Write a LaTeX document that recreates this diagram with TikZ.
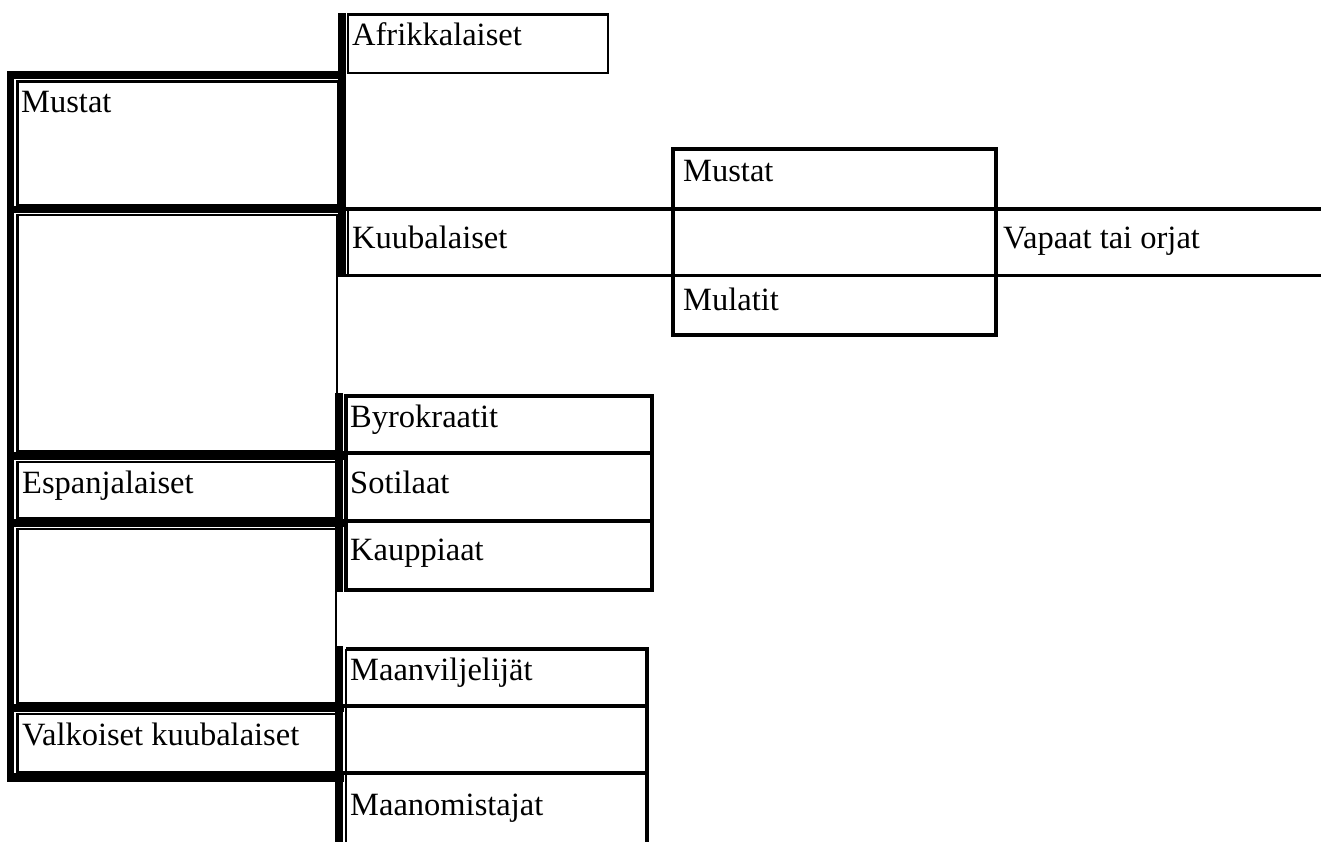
\documentclass[tikz,border=0pt]{standalone}
\usepackage{fontspec}
\setmainfont{Liberation Serif}
\begin{document}
\begin{tikzpicture}[x=1pt,y=-1pt,
  heavy/.style={fill=black,draw=none},
  cell/.style={draw=black,line width=2.6pt},
  rule/.style={draw=black,line width=3.8pt},
  lbl/.style={anchor=base west,inner sep=0pt,font=\fontsize{32.5}{39}\selectfont}]
\useasboundingbox (0,0) rectangle (1321,842);
\fill[white] (0,0) rectangle (1321,842);
% heavy frame of the left column
\path[heavy] (7,71) rectangle (14,782);
\path[heavy] (7,71) rectangle (346,79);
\path[heavy] (7,206) rectangle (346,213);
\path[heavy] (7,452) rectangle (344,460);
\path[heavy] (7,519) rectangle (344,527);
\path[heavy] (7,704) rectangle (344,712);
\path[heavy] (7,773) rectangle (344,782);
% heavy bars of the right groups
\path[heavy] (338,13) rectangle (346,277);
\path[heavy] (335,393) rectangle (343,592);
\path[heavy] (335,646) rectangle (343,842);
% left column cells
\draw[cell] (17.5,81.5) rectangle (338,205);
\draw[cell] (17.5,215) rectangle (337,451);
\draw[cell] (17.5,462) rectangle (336,518);
\draw[cell] (17.5,529) rectangle (336,703);
\draw[cell] (17.5,714) rectangle (336,772);
% Afrikkalaiset
\draw[cell] (348,14.5) rectangle (608,73);
% Kuubalaiset row
\draw[rule] (346,209) -- (1321,209);
\draw[rule] (336,275.5) -- (1321,275.5);
\draw[cell] (348,209) -- (348,275);
% middle box
\draw[cell,line width=3.2pt] (673,149) rectangle (996,335);
% Byrokraatit group
\draw[cell,line width=3.2pt] (346,396) rectangle (652,590);
\draw[cell,line width=3.2pt] (343,453) -- (652,453);
\draw[cell,line width=3.2pt] (343,521) -- (652,521);
% Maanviljelijat group
\draw[cell,line width=3.2pt] (346,649) -- (647,649) -- (647,845);
\draw[cell] (346,649) -- (346,845);
\draw[cell,line width=3.2pt] (343,706) -- (647,706);
\draw[cell,line width=3.2pt] (343,773) -- (647,773);
% labels
\node[lbl] (afr) at (352,46) {Afrikkalaiset};
\node[lbl] (mus) at (21,113) {Mustat};
\node[lbl] (kuu) at (352,248) {Kuubalaiset};
\node[lbl] (mus2) at (683,182) {Mustat};
\node[lbl] (vap) at (1003,248) {Vapaat tai orjat};
\node[lbl] (mul) at (683,310) {Mulatit};
\node[lbl] (byr) at (350,427) {Byrokraatit};
\node[lbl] (sot) at (350,493) {Sotilaat};
\node[lbl] (esp) at (22,493) {Espanjalaiset};
\node[lbl] (kau) at (350,560) {Kauppiaat};
\node[lbl] (maa) at (350,680) {Maanviljelijät};
\node[lbl] (val) at (22,745) {Valkoiset kuubalaiset};
\node[lbl] (mom) at (350,815) {Maanomistajat};
\end{tikzpicture}
\end{document}
